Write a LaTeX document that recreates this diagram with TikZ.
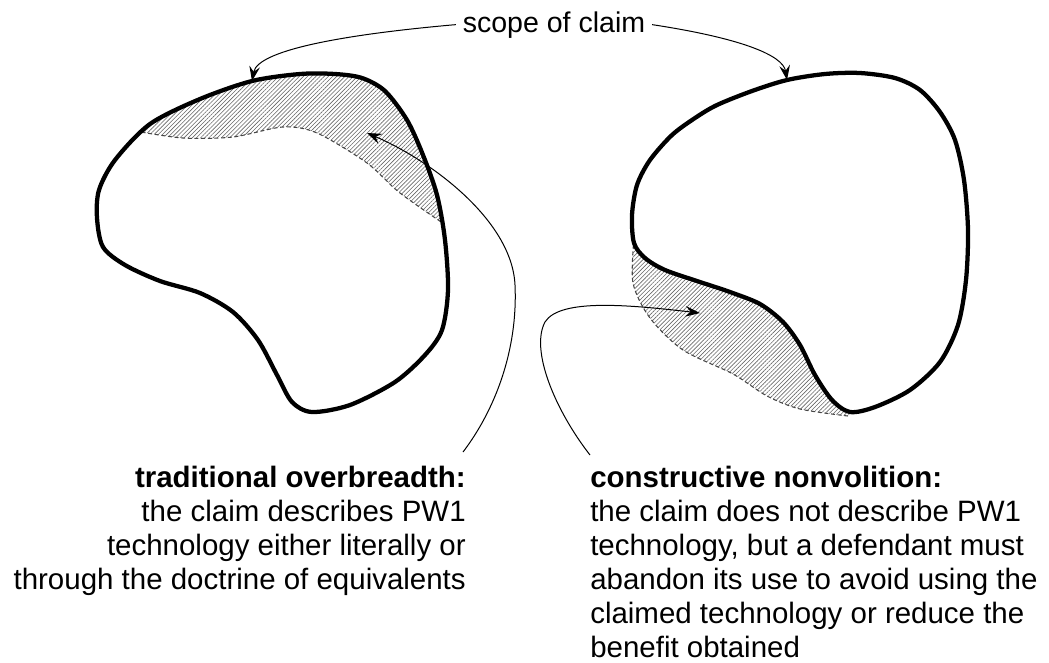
\documentclass[tikz,border=0pt]{standalone}
\usepackage{fontspec}
\setmainfont{Liberation Sans}
\usetikzlibrary{arrows.meta,patterns.meta}

\newcommand\leftshape{plot[smooth cycle] coordinates {(99,190) (115,160) (150,124) (200,99) (252,81) (300,74) (335,74) (362,78) (385,91) (407,120) (423,155) (437,195) (445,240) (448,290) (442,330) (425,355) (395,382) (350,405) (312,412) (292,402) (277,375) (258,340) (233,312) (200,293) (160,281) (125,265) (103,247) (97,218)}}
\newcommand\rightshape{plot[smooth cycle] coordinates {(695,118) (717,105) (752,91) (787,80) (825,74) (860,73) (895,78) (920,90) (940,112) (955,140) (964,180) (968,230) (966,280) (958,325) (940,362) (910,390) (875,407) (850,412) (832,400) (815,375) (800,345) (783,322) (760,304) (730,292) (700,282) (665,270) (645,258) (634,243) (632,215) (637,185) (650,160) (672,135)}}

\tikzset{
  claimedge/.style={line width=3.2pt, line join=round},
  dashedge/.style={densely dashed, gray!55!black, line width=0.8pt},
  hatch/.style={pattern={Lines[angle=45,distance=2.2pt,line width=0.45pt]}, pattern color=gray!80!black},
  pointer/.style={line width=0.75pt},
  textblock/.style={inner sep=0pt, font=\fontsize{22.1}{25.5}\selectfont}
}

\begin{document}
\begin{tikzpicture}[x=0.75pt, y=-0.75pt, >={Stealth[length=11pt,width=8pt,inset=4pt]}]
        \useasboundingbox (0,0) rectangle (1049,662);
        
        % left shape, hatched inside
        \begin{scope}
        \clip \leftshape;
        \fill [hatch] plot[smooth] coordinates {(135,131) (183,138) (233,137) (283,127) (317,133) (367,163) (400,193) (450,228)} -- (470,50) -- (120,50) -- cycle;
        \draw [dashedge] plot[smooth] coordinates {(135,131) (183,138) (233,137) (283,127) (317,133) (367,163) (400,193) (450,228)};
        \end{scope}
        \draw [claimedge] \leftshape;
        
        % right shape, hatched outside
        \fill [hatch] plot[smooth] coordinates {(634,238) (633,283) (650,318) (683,350) (733,374) (767,396) (800,409) (848,416)} -- (900,330) -- (720,240) -- cycle;
        \draw [dashedge] plot[smooth] coordinates {(634,238) (633,283) (650,318) (683,350) (733,374) (767,396) (800,409) (848,416)};
        \draw [claimedge, fill=white] \rightshape;
        
        % labels
        \node [textblock, font=\fontsize{21.4}{25.5}\selectfont, inner sep=5pt, anchor=base] (claimlabel) at (554,32) {scope of claim};
        
        \node [textblock, align=right, anchor=north east] (overtext) at (466,466)
        {\textbf{traditional overbreadth:}\\the claim describes PW1\\technology either literally or\\through the doctrine of equivalents};
        
        \node [textblock, align=left, anchor=north west] (nonvoltext) at (590,466)
        {\textbf{constructive nonvolition:}\\the claim does not describe PW1\\technology, but a defendant must\\abandon its use to avoid using the\\claimed technology or reduce the\\benefit obtained};
        
        % arrows
        \coordinate (lefttop) at (252,81);
        \coordinate (righttop) at (787,80);
        \coordinate (overtip) at (367,133);
        \coordinate (overfoot) at (463,452);
        \coordinate (nonvoltip) at (700,313);
        \coordinate (nonvolfoot) at (590,455);
        
        \draw [pointer, ->] (claimlabel.west) .. controls (360,33) and (258,48) .. (lefttop);
        \draw [pointer, ->] (claimlabel.east) .. controls (740,38) and (783,55) .. (righttop);
        
        \draw [pointer, ->] (overfoot) .. controls (495,410) and (518,350) .. (515,285)
        .. controls (512,220) and (430,160) .. (overtip);
        \draw [pointer, ->] (nonvolfoot) .. controls (555,410) and (530,350) .. (545,322)
        .. controls (560,298) and (630,305) .. (nonvoltip);
        
    \end{tikzpicture}
\end{document}
